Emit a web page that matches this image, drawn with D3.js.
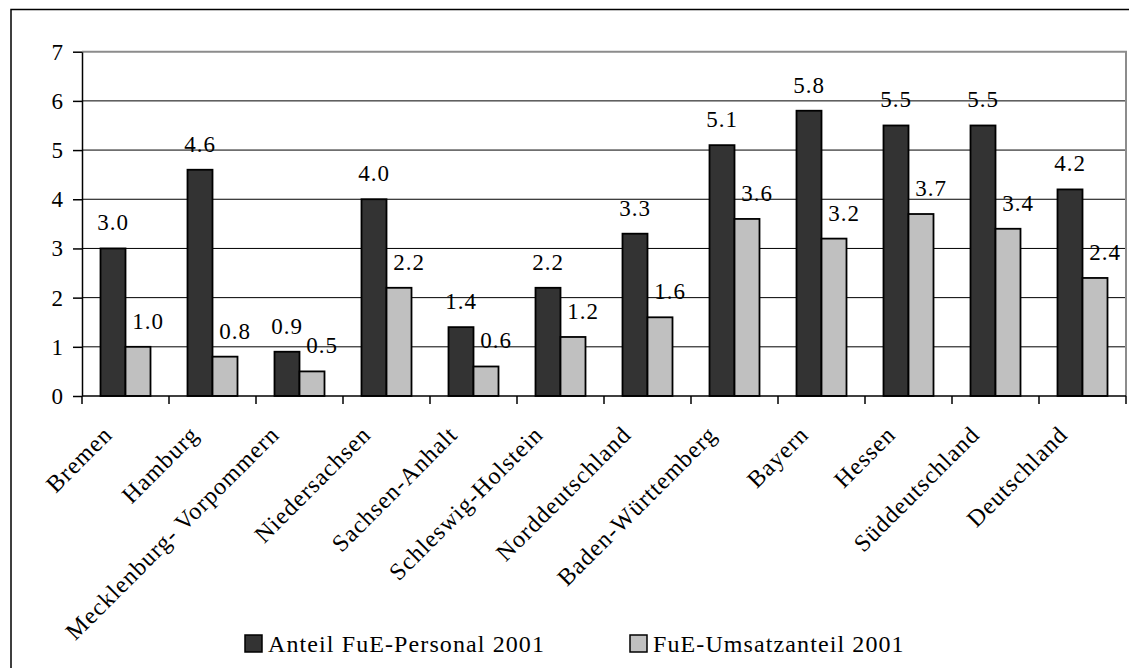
<!DOCTYPE html>
<html>
<head>
<meta charset="utf-8">
<script src="https://cdn.jsdelivr.net/npm/d3@7/dist/d3.min.js"></script>
<style>
  html, body { margin: 0; padding: 0; background: #fff; }
  svg { display: block; }
</style>
</head>
<body>
<svg id="chart" width="1129" height="668"></svg>
<script>
// Regions and their R&D indicators (percent)
const regions = ["Bremen", "Hamburg", "Mecklenburg- Vorpommern", "Niedersachsen",
  "Sachsen-Anhalt", "Schleswig-Holstein", "Norddeutschland", "Baden-Württemberg",
  "Bayern", "Hessen", "Süddeutschland", "Deutschland"];
const personal = [3.0, 4.6, 0.9, 4.0, 1.4, 2.2, 3.3, 5.1, 5.8, 5.5, 5.5, 4.2];
const umsatz   = [1.0, 0.8, 0.5, 2.2, 0.6, 1.2, 1.6, 3.6, 3.2, 3.7, 3.4, 2.4];
const seriesNames = ["Anteil FuE-Personal 2001", "FuE-Umsatzanteil 2001"];
const seriesColors = ["#333333", "#c0c0c0"];
const yTicks = [0, 1, 2, 3, 4, 5, 6, 7];

const FONT = "Liberation Serif";
const rows = regions.map((r, i) => ({ region: r, values: [personal[i], umsatz[i]] }));

const svg = d3.select("#chart");
const plot = { left: 82, right: 1126, top: 51.7, bottom: 396 };

// Outer frame (top and left edges)
svg.append("path")
  .attr("d", "M11,668V9.5H1129")
  .attr("fill", "none").attr("stroke", "#000").attr("stroke-width", 1.5);

const x0 = d3.scaleBand().domain(regions).range([plot.left, plot.right]).padding(0);
const x1 = d3.scaleBand().domain([0, 1]).range([0, x0.bandwidth()])
  .paddingInner(0).paddingOuter(0.74);
const y = d3.scaleLinear().domain([0, 7]).range([plot.bottom, plot.top]);

// Horizontal gridlines
svg.append("g").selectAll("line")
  .data(yTicks.filter(t => t > 0 && t < 7))
  .join("line")
  .attr("x1", plot.left).attr("x2", plot.right)
  .attr("y1", d => y(d)).attr("y2", d => y(d))
  .attr("stroke", "#000").attr("stroke-width", 1);

// Plot area border (top and right)
svg.append("path")
  .attr("d", `M${plot.left},${y(7)}H${plot.right}V${plot.bottom}`)
  .attr("fill", "none").attr("stroke", "#8c8c8c").attr("stroke-width", 2);

// Bars
const groups = svg.append("g").selectAll("g")
  .data(rows).join("g")
  .attr("transform", d => `translate(${x0(d.region)},0)`);

groups.selectAll("rect")
  .data(d => d.values.map((v, k) => ({ v, k })))
  .join("rect")
  .attr("x", d => x1(d.k))
  .attr("width", x1.bandwidth())
  .attr("y", d => y(d.v))
  .attr("height", d => y(0) - y(d.v))
  .attr("fill", d => seriesColors[d.k])
  .attr("stroke", "#000").attr("stroke-width", 1.8);

// Value labels
groups.selectAll("text.val")
  .data(d => d.values.map((v, k) => ({ v, k })))
  .join("text")
  .attr("class", "val")
  .attr("x", d => x1(d.k) + x1.bandwidth() / 2 + (d.k === 1 ? 10 : 0))
  .attr("y", d => y(d.v) - 18)
  .attr("text-anchor", "middle")
  .attr("font-family", FONT)
  .attr("font-size", 23)
  .attr("letter-spacing", 1)
  .text(d => d.v.toFixed(1));

// Y axis
const yAxis = svg.append("g")
  .attr("transform", `translate(${plot.left},0)`)
  .call(d3.axisLeft(y).tickValues(yTicks).tickFormat(d3.format("d"))
    .tickSize(9).tickPadding(10).tickSizeOuter(0));
yAxis.attr("font-family", FONT).attr("font-size", 23);
yAxis.select(".domain").attr("stroke", "#000").attr("stroke-width", 1.5);
yAxis.selectAll(".tick line").attr("stroke", "#000").attr("stroke-width", 1.5);
yAxis.selectAll(".tick text").attr("fill", "#000");

// X axis: ticks sit at category boundaries
const boundaries = regions.map(r => x0(r)).concat([plot.right]);
svg.append("line")
  .attr("x1", plot.left).attr("x2", plot.right)
  .attr("y1", plot.bottom).attr("y2", plot.bottom)
  .attr("stroke", "#000").attr("stroke-width", 1.5);
svg.append("g").selectAll("line")
  .data(boundaries).join("line")
  .attr("x1", d => d).attr("x2", d => d)
  .attr("y1", plot.bottom).attr("y2", plot.bottom + 8)
  .attr("stroke", "#000").attr("stroke-width", 1.5);

// Rotated category labels; longer labels are nudged further left
svg.append("g").selectAll("text")
  .data(regions).join("text")
  .attr("text-anchor", "end")
  .attr("font-family", FONT)
  .attr("font-size", 24)
  .attr("letter-spacing", 1)
  .text(d => d)
  .attr("transform", function (d) {
    const len = this.getComputedTextLength();
    const cx = x0(d) + x0.bandwidth() / 2 - 9 - 0.034 * len;
    return `translate(${cx},${plot.bottom + 40}) rotate(-45)`;
  });

// Legend
const legendX = [245, 630];
const legend = svg.append("g").selectAll("g")
  .data(seriesNames).join("g")
  .attr("transform", (d, i) => `translate(${legendX[i]},635)`);
legend.append("rect")
  .attr("width", 17).attr("height", 17)
  .attr("fill", (d, i) => seriesColors[i])
  .attr("stroke", "#000").attr("stroke-width", 1.5);
legend.append("text")
  .attr("x", 23).attr("y", 16.5)
  .attr("font-family", FONT)
  .attr("font-size", 24)
  .attr("letter-spacing", 1.1)
  .text(d => d);
</script>
</body>
</html>
